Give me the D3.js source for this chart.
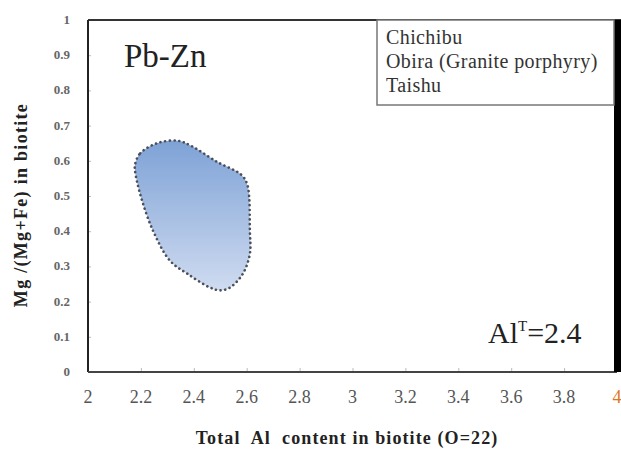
<!DOCTYPE html>
<html>
<head>
<meta charset="utf-8">
<script src="https://cdn.jsdelivr.net/npm/d3@7"></script>
<style>
  body { margin: 0; background: #fff; }
  svg { display: block; }
</style>
</head>
<body>
<svg id="chart" width="621" height="449">
  <text x="124" y="67" font-family="Liberation Serif" font-size="33" fill="#222">Pb-Zn</text>
  <text x="488" y="343" font-family="Liberation Serif" font-size="30" fill="#222">Al<tspan dy="-12" font-size="15">T</tspan><tspan dy="12">=2.4</tspan></text>
</svg>
<script>
// axis ticks
var xTicks = [2, 2.2, 2.4, 2.6, 2.8, 3, 3.2, 3.4, 3.6, 3.8, 4];
var yTicks = [0, 0.1, 0.2, 0.3, 0.4, 0.5, 0.6, 0.7, 0.8, 0.9, 1];

// Pb-Zn field outline (Al total, Mg/(Mg+Fe))
var fieldX = [2.178, 2.197, 2.261, 2.340, 2.393, 2.488, 2.580, 2.603, 2.612, 2.612, 2.586, 2.537, 2.499, 2.461, 2.374, 2.310, 2.246, 2.197, 2.178];
var fieldY = [0.590, 0.621, 0.650, 0.657, 0.641, 0.597, 0.560, 0.530, 0.401, 0.336, 0.280, 0.240, 0.232, 0.240, 0.280, 0.316, 0.401, 0.506, 0.571];

var legendItems = ["Chichibu", "Obira (Granite porphyry)", "Taishu"];

var width = 621, height = 449;
var margin = {top: 20, right: 4, bottom: 77, left: 88};
var serif = "Liberation Serif";

var svg = d3.select("#chart");

var x = d3.scaleLinear().domain([2, 4]).range([margin.left, width - margin.right]);
var y = d3.scaleLinear().domain([0, 1]).range([height - margin.bottom, margin.top]);

// gradient for the field
var grad = svg.append("defs").append("linearGradient")
  .attr("id", "fieldGrad")
  .attr("x1", 0).attr("y1", 0).attr("x2", 0).attr("y2", 1);
grad.append("stop").attr("offset", "0%").attr("stop-color", "#7ea2d6");
grad.append("stop").attr("offset", "100%").attr("stop-color", "#cfdbf0");

// field polygon
var pts = fieldX.map(function(d, i) { return [x(d), y(fieldY[i])]; });
var line = d3.line().curve(d3.curveCatmullRomClosed.alpha(0.5));
svg.append("path")
  .attr("d", line(pts))
  .attr("fill", "url(#fieldGrad)")
  .attr("stroke", "#4a4f5a")
  .attr("stroke-width", 2.6)
  .attr("stroke-linecap", "round")
  .attr("stroke-dasharray", "0.1 4.6");

// x ticks (inside)
var xAxis = d3.axisTop(x).tickValues(xTicks).tickSize(4).tickFormat("");
svg.append("g")
  .attr("transform", "translate(0," + y(0) + ")")
  .call(xAxis)
  .call(function(g) { g.select(".domain").remove(); })
  .selectAll("line").attr("stroke", "#bbb");

// y ticks (inside)
var yAxis = d3.axisRight(y).tickValues(yTicks).tickSize(3).tickFormat("");
svg.append("g")
  .attr("transform", "translate(" + x(2) + ",0)")
  .call(yAxis)
  .call(function(g) { g.select(".domain").remove(); })
  .selectAll("line").attr("stroke", "#bbb");

// x tick labels
svg.append("g").selectAll("text")
  .data(xTicks)
  .enter().append("text")
  .attr("x", function(d) { return x(d); })
  .attr("y", y(0) + 31)
  .attr("text-anchor", "middle")
  .attr("font-family", serif)
  .attr("font-size", 18)
  .attr("fill", function(d) { return d === 4 ? "#e0761c" : "#555"; })
  .text(function(d) { return d; });

// y tick labels
svg.append("g").selectAll("text")
  .data(yTicks)
  .enter().append("text")
  .attr("x", x(2) - 18)
  .attr("y", function(d) { return y(d) + 4; })
  .attr("text-anchor", "end")
  .attr("font-family", serif)
  .attr("font-size", 13)
  .attr("font-weight", "bold")
  .attr("fill", "#666")
  .text(function(d) { return d; });

// frame
svg.append("line")
  .attr("x1", x(2)).attr("x2", width)
  .attr("y1", y(1)).attr("y2", y(1))
  .attr("stroke", "#333").attr("stroke-width", 2);
svg.append("line")
  .attr("x1", x(2)).attr("x2", x(2))
  .attr("y1", y(1)).attr("y2", y(0))
  .attr("stroke", "#222").attr("stroke-width", 2);
svg.append("line")
  .attr("x1", x(2)).attr("x2", x(4))
  .attr("y1", y(0)).attr("y2", y(0))
  .attr("stroke", "#444").attr("stroke-width", 2);
svg.append("rect")
  .attr("x", x(4) - 3).attr("y", y(1))
  .attr("width", 7).attr("height", y(0) - y(1))
  .attr("fill", "#000");

// legend box
var lg = svg.append("g");
lg.append("rect")
  .attr("x", 377).attr("y", y(1))
  .attr("width", x(4) - 3 - 377).attr("height", 85)
  .attr("fill", "#fff")
  .attr("stroke", "#777").attr("stroke-width", 1.5);
lg.selectAll("text")
  .data(legendItems)
  .enter().append("text")
  .attr("x", 386)
  .attr("y", function(d, i) { return 44 + i * 24; })
  .attr("font-family", serif)
  .attr("font-size", 20)
  .attr("letter-spacing", 0.4)
  .attr("fill", "#333")
  .text(function(d) { return d; });

// axis titles
svg.append("text")
  .attr("x", 347).attr("y", 444)
  .attr("text-anchor", "middle")
  .attr("font-family", serif)
  .attr("font-size", 18)
  .attr("font-weight", "bold")
  .attr("letter-spacing", 1.1)
  .style("white-space", "pre")
  .attr("fill", "#222")
  .text("Total  Al  content in biotite (O=22)");

svg.append("text")
  .attr("transform", "translate(27,205) rotate(-90)")
  .attr("text-anchor", "middle")
  .attr("font-family", serif)
  .attr("font-size", 18)
  .attr("font-weight", "bold")
  .attr("letter-spacing", 1.3)
  .attr("fill", "#222")
  .text("Mg /(Mg+Fe) in biotite");
</script>
</body>
</html>
